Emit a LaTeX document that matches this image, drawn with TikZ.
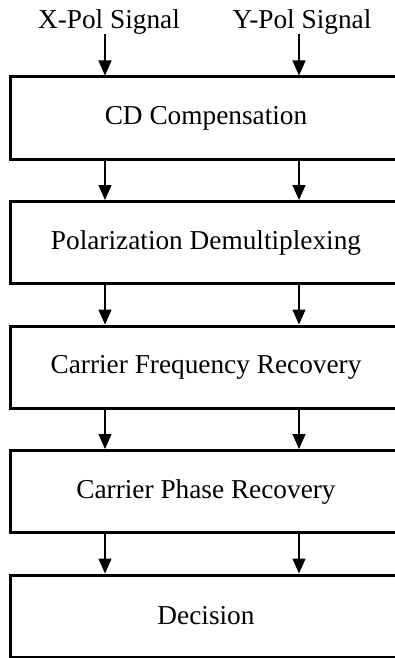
\documentclass[tikz,border=0pt]{standalone}
\usepackage{fontspec}
\setmainfont{Liberation Serif}
\newfontfamily\stagefont{Liberation Serif}
\usetikzlibrary{arrows.meta}

\begin{document}
\begin{tikzpicture}[x=1pt,y=1pt,
  stage/.style={draw, line width=3pt, minimum width=392pt, minimum height=82pt,
    font=\stagefont\fontsize{27.3}{32}\selectfont},
  sig/.style={inner sep=0pt, anchor=base, font=\stagefont\fontsize{27.3}{32}\selectfont},
  flow/.style={line width=1.3pt, -{Triangle[length=15pt,width=13pt]}}]
\useasboundingbox (0,0) rectangle (394,-658);
\coordinate (xcol) at (105,0);
\coordinate (ycol) at (299,0);
\node[sig] (xin) at (109,-28.3) {X-Pol Signal};
\node[sig] (yin) at (302,-28.3) {Y-Pol Signal};
\node[stage] (cd) at (206,-118) {CD Compensation};
\node[stage] (pd) at (206,-242.5) {Polarization Demultiplexing};
\node[stage] (cfr) at (206,-367) {Carrier Frequency Recovery};
\node[stage] (cpr) at (206,-491.5) {Carrier Phase Recovery};
\node[stage] (dec) at (206,-616) {Decision};
\draw[flow] (xin.south -| xcol) -- (cd.north -| xcol);
\draw[flow] (yin.south -| ycol) -- (cd.north -| ycol);
\draw[flow] (cd.south -| xcol) -- (pd.north -| xcol);
\draw[flow] (cd.south -| ycol) -- (pd.north -| ycol);
\draw[flow] (pd.south -| xcol) -- (cfr.north -| xcol);
\draw[flow] (pd.south -| ycol) -- (cfr.north -| ycol);
\draw[flow] (cfr.south -| xcol) -- (cpr.north -| xcol);
\draw[flow] (cfr.south -| ycol) -- (cpr.north -| ycol);
\draw[flow] (cpr.south -| xcol) -- (dec.north -| xcol);
\draw[flow] (cpr.south -| ycol) -- (dec.north -| ycol);
\end{tikzpicture}
\end{document}
